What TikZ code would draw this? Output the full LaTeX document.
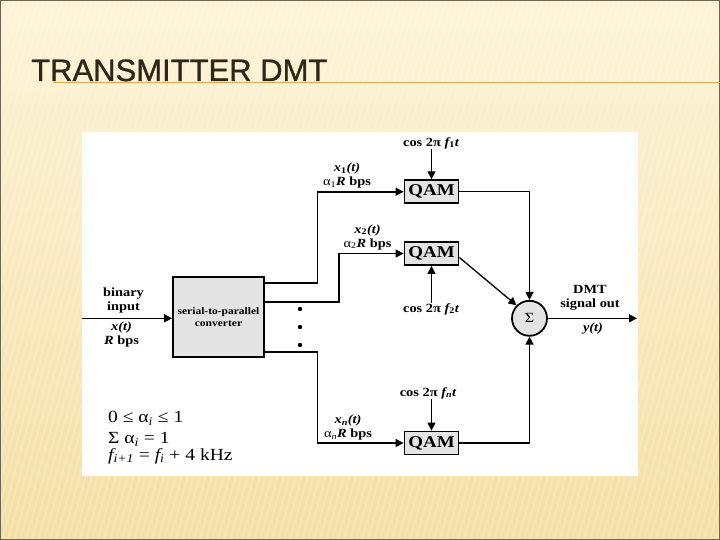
\documentclass[tikz,border=0pt]{standalone}
\usepackage{fontspec}
\setmainfont{Liberation Serif}[FakeStretch=1.15]
\newfontfamily\titlefont{Liberation Sans}[FakeBold=0.9]
\usetikzlibrary{arrows.meta,shapes.geometric}
\definecolor{bgtop}{HTML}{FDF4D8}
\definecolor{bgbot}{HTML}{F4E0A6}
\definecolor{titlec}{HTML}{2E2619}
\definecolor{rulec}{HTML}{E2A84A}
\definecolor{boxgray}{HTML}{E4E4E4}
\definecolor{framec}{HTML}{6E6650}
\newcommand{\sbx}[1]{\textsubscript{#1}}
\begin{document}
\begin{tikzpicture}[x=1pt,y=-1pt,
  box/.style={draw=black, line width=1.8pt, fill=boxgray, inner sep=0pt},
  qam/.style={box, minimum width=54pt, minimum height=23pt, font=\fontsize{16.5}{16.5}\selectfont\bfseries},
  lbl/.style={font=\fontsize{12.5}{14}\selectfont\bfseries, align=center, inner sep=0pt},
  eq/.style={font=\fontsize{17}{17}\selectfont, anchor=base west, inner sep=0pt},
  arr/.style={-{Triangle[length=8pt,width=8pt]}, line width=1.3pt},
  wire/.style={line width=1.9pt}]
\useasboundingbox (0,0) rectangle (720,540);
% background
\shade[top color=bgtop, bottom color=bgbot] (0,0) rectangle (720,540);
\begin{scope}
\clip (0,0) rectangle (720,540);
\foreach \i in {-160,-154,...,720} \draw[white, opacity=0.22, line width=1.4pt] (\i,540) -- (\i+150,0);
\end{scope}
\draw[framec, line width=1.2pt] (0.6,0.6) rectangle (719.4,539.4);
% title
\node[anchor=base west, text=titlec, font=\titlefont\fontsize{31}{31}\selectfont, inner sep=0pt] (title) at (31,81) {TRANSMITTER DMT};
\draw[rulec, line width=1pt] (53,83) -- (720,83);
% panel
\fill[white] (82,132) rectangle (638,476);
% blocks
\node[box, minimum width=91pt, minimum height=80pt, align=center, font=\fontsize{10}{12.5}\selectfont\bfseries] (sp) at (218.5,317) {serial-to-parallel\\converter};
\node[qam] (q1) at (431.5,191.7) {QAM};
\node[qam] (q2) at (431.5,253.5) {QAM};
\node[qam] (qn) at (431.5,443) {QAM};
\node[box, circle, minimum size=35pt, font=\fontsize{14}{14}\selectfont] (sum) at (529.5,318.3) {Σ};
% dots
\fill (300,309) circle (2.2);
\fill (300,327) circle (2.2);
\fill (300,345) circle (2.2);
% labels
\node[lbl] (bin) at (123.5,300) {binary\\input};
\node[lbl] (xt) at (121.5,334.5) {\itshape x(t)\\{\itshape R} bps};
\node[lbl] (l1) at (347,175.5) {{\itshape x\sbx{\upshape 1}(t)}\\{\mdseries α\sbx{1}}{\itshape R} bps};
\node[lbl] (l2) at (367.5,237) {{\itshape x\sbx{\upshape 2}(t)}\\{\mdseries α\sbx{2}}{\itshape R} bps};
\node[lbl] (ln) at (348,427.5) {{\itshape x\sbx{n}(t)}\\{\mdseries α\sbx{\itshape n}}{\itshape R} bps};
\node[lbl] (c1) at (431,143) {cos 2π {\itshape f\sbx{\upshape 1}t}};
\node[lbl] (c2) at (431,309) {cos 2π {\itshape f\sbx{\upshape 2}t}};
\node[lbl] (cn) at (428,393) {cos 2π {\itshape f\sbx{n}t}};
\node[lbl] (dmt) at (590,298) {DMT\\signal out};
\node[lbl] (yt) at (593,329) {\itshape y(t)};
% equations
\node[eq] (e1) at (108,422.5) {0 ≤ α\sbx{\itshape i} ≤ 1};
\node[eq] (e2) at (108,443.5) {Σ α\sbx{\itshape i} = 1};
\node[eq] (e3) at (108,460) {{\itshape f\sbx{i+1}} = {\itshape f\sbx{i}} + 4 kHz};
% connectors
\coordinate (inL) at (82,318.3);
\coordinate (outR) at (637,318.3);
\coordinate (o1) at (264,283);
\coordinate (o2) at (264,301.7);
\coordinate (on) at (264,351.7);
\draw[arr] (inL) -- (sp.west |- inL);
\draw[wire] (o1) -- ++(53.5,0) |- ([xshift=-8pt]q1.west);
\draw[arr] ([xshift=-9pt]q1.west) -- (q1.west);
\draw[wire] (o2) -- ++(75,0) |- ([xshift=-8pt]q2.west);
\draw[arr] ([xshift=-9pt]q2.west) -- (q2.west);
\draw[wire] (on) -- ++(53.5,0) |- ([xshift=-8pt]qn.west);
\draw[arr] ([xshift=-9pt]qn.west) -- (qn.west);
\draw[arr] (q1.east) -| (sum.north);
\draw[arr] ([yshift=-4pt]q2.east) -- (sum.north west);
\draw[arr, line width=1.9pt] (qn.east) -| (sum.south);
\draw[arr] (sum.east) -- (outR);
\draw[arr] (q1.north |- c1.south) -- (q1.north);
\draw[arr] (q2.south |- c2.north) -- (q2.south);
\draw[arr] (qn.north |- cn.south) -- (qn.north);
\end{tikzpicture}
\end{document}
